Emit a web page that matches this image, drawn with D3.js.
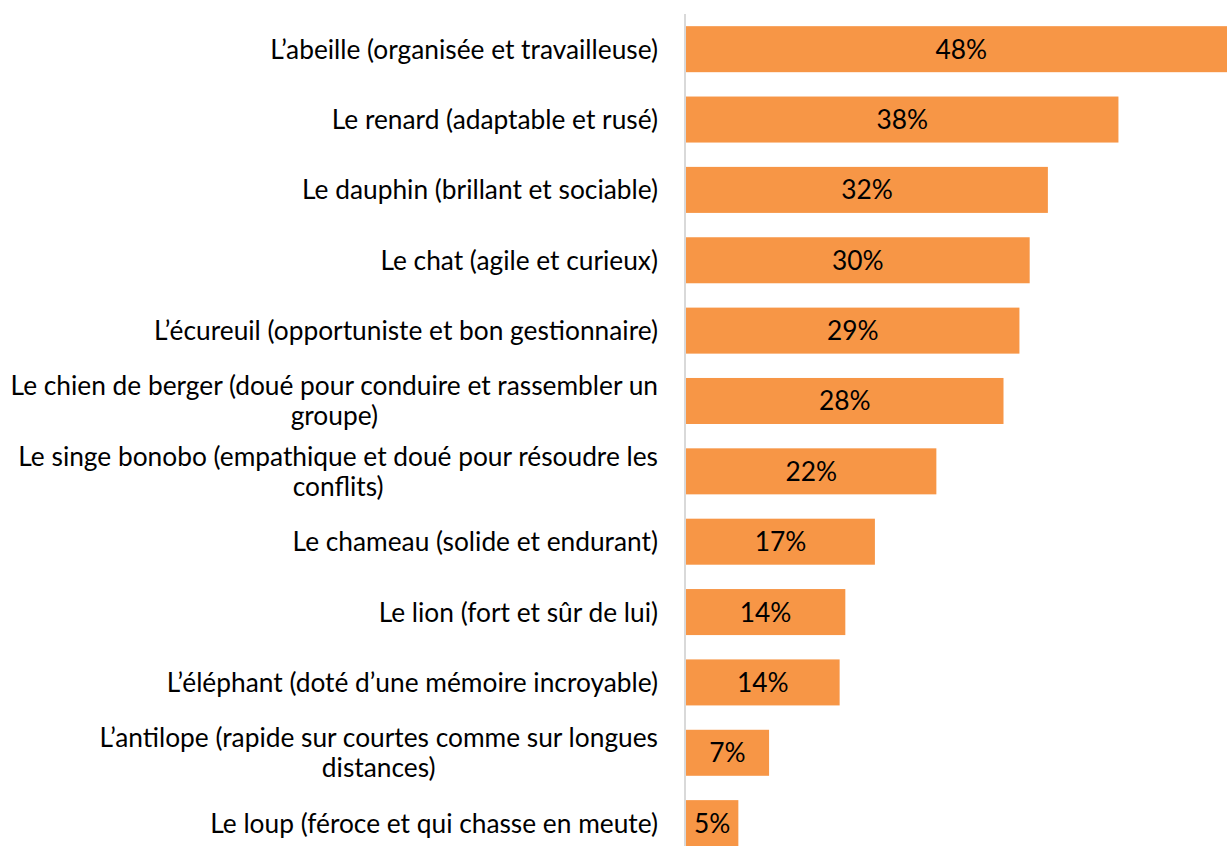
<!DOCTYPE html>
<html lang="fr">
<head>
  <meta charset="UTF-8">
  <title>Animaux</title>
  <script src="https://d3js.org/d3.v7.min.js"></script>
  <style>
    body { margin: 0; background: #fff; }
    svg { font-family: Lato, "Open Sans", sans-serif; }
  </style>
</head>
<body>
  <svg id="chart"></svg>
  <script>
    // categories (line breaks as in the original labels)
    const categories = [
      "L’abeille (organisée et travailleuse)",
      "Le renard (adaptable et rusé)",
      "Le dauphin (brillant et sociable)",
      "Le chat (agile et curieux)",
      "L’écureuil (opportuniste et bon gestionnaire)",
      "Le chien de berger (doué pour conduire et rassembler un\ngroupe)",
      "Le singe bonobo (empathique et doué pour résoudre les\nconflits)",
      "Le chameau (solide et endurant)",
      "Le lion (fort et sûr de lui)",
      "L’éléphant (doté d’une mémoire incroyable)",
      "L’antilope (rapide sur courtes comme sur longues\ndistances)",
      "Le loup (féroce et qui chasse en meute)"
    ];
    // values in %
    const values = [48.4, 38.0, 31.8, 30.2, 29.3, 27.9, 22.0, 16.6, 14.0, 13.5, 7.3, 4.6];

    const W = 1227, H = 846;
    const axisX = 686;
    const labelRight = 658;
    const fontSize = "26.3px";

    const svg = d3.select("#chart")
      .attr("width", W)
      .attr("height", H);

    const x = d3.scaleLinear()
      .domain([0, 48])
      .range([axisX, axisX + 48 * 11.38]);

    const y = d3.scaleBand()
      .domain(categories)
      .range([14, 14 + 12 * 70.36])
      .paddingInner(0.346)
      .paddingOuter(0.173);

    // bars
    svg.append("g")
      .selectAll("rect")
      .data(values)
      .enter().append("rect")
      .attr("x", x(0))
      .attr("y", (d, i) => y(categories[i]))
      .attr("width", d => x(d) - x(0))
      .attr("height", y.bandwidth())
      .attr("fill", "#F79646");

    // vertical axis line
    svg.append("line")
      .attr("x1", axisX - 1).attr("x2", axisX - 1)
      .attr("y1", 14).attr("y2", H)
      .attr("stroke", "#d9d9d9")
      .attr("stroke-width", 2);

    // value labels
    svg.append("g")
      .selectAll("text")
      .data(values)
      .enter().append("text")
      .attr("x", d => (x(0) + Math.min(x(d), 1240)) / 2)
      .attr("y", (d, i) => y(categories[i]) + y.bandwidth() / 2)
      .attr("dy", "0.36em")
      .attr("text-anchor", "middle")
      .style("font-size", fontSize)
      .attr("fill", "#000")
      .text(d => Math.round(d) + "%");

    // category labels (block right-aligned, lines centred within block)
    const lineH = 30;
    categories.forEach(cat => {
      const lines = cat.split("\n");
      const cy = y(cat) + y.bandwidth() / 2;
      const t = svg.append("text")
        .attr("text-anchor", "middle")
        .style("font-size", fontSize)
        .attr("fill", "#000");
      lines.forEach((ln, j) => {
        t.append("tspan")
          .attr("x", 0)
          .attr("y", cy + (j - (lines.length - 1) / 2) * lineH)
          .attr("dy", "0.36em")
          .text(ln);
      });
      let w = 0;
      t.selectAll("tspan").each(function () {
        w = Math.max(w, this.getComputedTextLength());
      });
      t.selectAll("tspan").attr("x", labelRight - w / 2);
    });
  </script>
</body>
</html>
